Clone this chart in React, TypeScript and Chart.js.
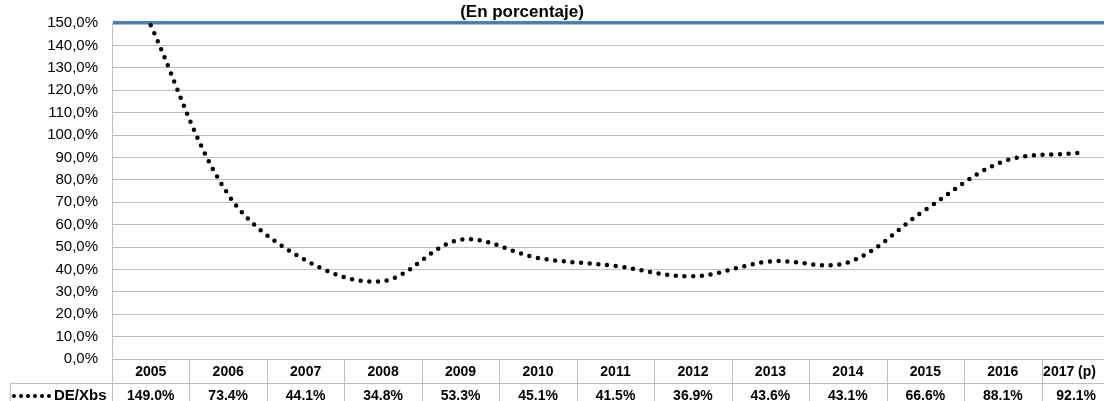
import React, { useEffect, useRef } from "react";
import { Chart, registerables } from "chart.js";

Chart.register(...registerables);

const TITLE = "(En porcentaje)";
const SERIES_NAME = "DE/Xbs";
const YEARS = ["2005", "2006", "2007", "2008", "2009", "2010", "2011", "2012", "2013", "2014", "2015", "2016", "2017 (p)"];
const VALUES = [149.0, 73.4, 44.1, 34.8, 53.3, 45.1, 41.5, 36.9, 43.6, 43.1, 66.6, 88.1, 92.1];
const TABLE_LABELS = ["149.0%", "73.4%", "44.1%", "34.8%", "53.3%", "45.1%", "41.5%", "36.9%", "43.6%", "43.1%", "66.6%", "88.1%", "92.1%"];

const W = 1130;
const H = 412;
const VISIBLE_W = 1104;
const GRID = "#bfbfbf";
const TABLE_FONT = "bold 14px 'Liberation Sans', Arial, sans-serif";

const tablePlugin = {
  id: "tablePlugin",
  afterDraw(chart: any) {
    const ctx = chart.ctx;
    const ca = chart.chartArea;
    const n = YEARS.length;
    const colW = (ca.right - ca.left) / n;
    const top = ca.bottom;
    const row1 = top + 24;
    const row2 = row1 + 24;
    const legendLeft = 10.5;
    ctx.save();
    // title
    ctx.fillStyle = "#000";
    ctx.font = "bold 17px 'Liberation Sans', Arial, sans-serif";
    ctx.textAlign = "center";
    ctx.textBaseline = "middle";
    ctx.fillText(TITLE, 522, 12);

    ctx.strokeStyle = GRID;
    ctx.lineWidth = 1;
    ctx.beginPath();
    ctx.moveTo(ca.left, Math.round(top) + 0.5);
    ctx.lineTo(ca.right, Math.round(top) + 0.5);
    ctx.moveTo(legendLeft, Math.round(row1) + 0.5);
    ctx.lineTo(ca.right, Math.round(row1) + 0.5);
    ctx.moveTo(legendLeft, Math.round(row2) + 0.5);
    ctx.lineTo(ca.right, Math.round(row2) + 0.5);
    for (let i = 0; i <= n; i++) {
      const x = Math.round(ca.left + i * colW) + 0.5;
      ctx.moveTo(x, top);
      ctx.lineTo(x, row2);
    }
    ctx.moveTo(legendLeft, row1);
    ctx.lineTo(legendLeft, row2);
    ctx.stroke();

    ctx.fillStyle = "#000";
    ctx.font = TABLE_FONT;
    ctx.textAlign = "center";
    ctx.textBaseline = "middle";
    const place = (text: string, cx: number, y: number) => {
      const w = ctx.measureText(text).width;
      const maxRight = VISIBLE_W - 8;
      const x = cx + w / 2 > maxRight ? maxRight - w / 2 : cx;
      ctx.fillText(text, x, y);
    };
    for (let i = 0; i < n; i++) {
      const cx = ca.left + (i + 0.5) * colW;
      place(YEARS[i], cx, top + 13);
      place(TABLE_LABELS[i], cx, row1 + 13);
    }
    // legend key
    ctx.strokeStyle = "#000";
    ctx.lineWidth = 4;
    ctx.lineCap = "round";
    ctx.setLineDash([0, 7]);
    ctx.beginPath();
    ctx.moveTo(14, row1 + 13);
    ctx.lineTo(49.5, row1 + 13);
    ctx.stroke();
    ctx.setLineDash([]);
    ctx.textAlign = "left";
    ctx.font = "bold 15px 'Liberation Sans', Arial, sans-serif";
    ctx.fillText(SERIES_NAME, 54, row1 + 13);
    ctx.restore();
  },
};

export default function App() {
  const ref = useRef<HTMLCanvasElement | null>(null);
  useEffect(() => {
    if (!ref.current) return;
    const chart = new Chart(ref.current, {
      type: "line",
      data: {
        labels: YEARS,
        datasets: [
          {
            label: SERIES_NAME,
            data: VALUES,
            borderColor: "#000",
            borderWidth: 4.5,
            borderCapStyle: "round",
            borderDash: [0, 8.7],
            pointRadius: 0,
            tension: 0.35,
            fill: false,
          },
        ],
      },
      options: {
        responsive: false,
        animation: false,
        layout: { padding: { top: 21, right: W - 1119, left: 0, bottom: 0 } },
        plugins: { legend: { display: false }, title: { display: false }, tooltip: { enabled: false } },
        scales: {
          x: {
            type: "category",
            offset: true,
            grid: { display: false },
            border: { display: false },
            ticks: { display: false },
            afterFit: (s: any) => {
              s.height = H - 359;
            },
          },
          y: {
            min: 0,
            max: 150,
            afterFit: (s: any) => {
              s.width = 112;
            },
            border: { display: true, color: GRID, width: 1 },
            grid: {
              drawTicks: false,
              color: (c: any) => (c.tick && c.tick.value === 150 ? "#4a7ebb" : GRID),
              lineWidth: (c: any) => (c.tick && c.tick.value === 150 ? 3.5 : 1),
            },
            ticks: {
              stepSize: 10,
              padding: 14,
              color: "#000",
              font: { family: "'Liberation Sans', Arial, sans-serif", size: 15 },
              callback: (v: any) => Number(v).toFixed(1).replace(".", ",") + "%",
            },
          },
        },
      },
      plugins: [tablePlugin],
    } as any);
    return () => chart.destroy();
  }, []);
  return (
    <div style={{ position: "fixed", left: 0, top: 0, width: VISIBLE_W, height: 401, overflow: "hidden", background: "#fff" }}>
      <canvas ref={ref} width={W} height={H} style={{ display: "block" }} />
    </div>
  );
}
